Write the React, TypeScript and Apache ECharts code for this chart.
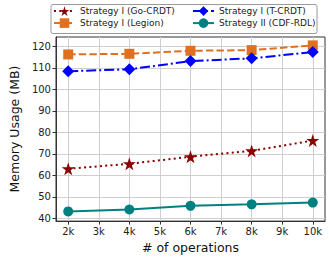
import React, { useEffect, useRef } from "react";
import * as echarts from "echarts";

const ops = [2, 4, 6, 8, 10];
const goCrdt = [63.1, 65.4, 68.7, 71.4, 76.2];
const legion = [116.2, 116.5, 117.9, 118.2, 120.4];
const tCrdt = [108.4, 109.3, 113.1, 114.4, 117.3];
const cdfRdl = [43.3, 44.2, 45.9, 46.6, 47.4];
const xTicks = [2, 3, 4, 5, 6, 7, 8, 9, 10];
const yTicks = [40, 50, 60, 70, 80, 90, 100, 110, 120];

const names = [
  "Strategy I (Go-CRDT)",
  "Strategy I (Legion)",
  "Strategy I (T-CRDT)",
  "Strategy II (CDF-RDL)",
];

const STAR =
  "path://M0,-10 L2.245,-3.09 L9.511,-3.09 L3.633,1.18 L5.878,8.09 L0,3.82 L-5.878,8.09 L-3.633,1.18 L-9.511,-3.09 L-2.245,-3.09 Z";

const FONT = "DejaVu Sans";

export default function App() {
  const ref = useRef<HTMLDivElement>(null);
  useEffect(() => {
    const chart = echarts.init(ref.current!, null, { renderer: "svg" });
    const pair = (ys: number[]) => ops.map((x, i) => [x, ys[i]]);
    const legendBase = {
      padding: 0,
      itemWidth: 21,
      itemHeight: 12,
      textStyle: { fontFamily: FONT, fontSize: 9, color: "#222" },
      selectedMode: false,
      z: 10,
    };
    chart.setOption({
      animation: false,
      textStyle: { fontFamily: FONT },
      grid: {
        left: 43,
        right: 4,
        top: 37,
        bottom: 33,
        show: true,
        borderColor: "#333",
        borderWidth: 1,
        backgroundColor: "transparent",
      },
      graphic: [
        {
          type: "rect",
          z: 3,
          shape: { x: 51, y: 4.5, width: 266, height: 29, r: 2 },
          style: { fill: "#fff", stroke: "#999", lineWidth: 1 },
        },
      ],
      legend: [
        { ...legendBase, data: [names[0]], left: 53, top: 6.3 },
        { ...legendBase, data: [names[1]], left: 53, top: 18.3 },
        { ...legendBase, data: [names[2]], left: 192, top: 6.3 },
        { ...legendBase, data: [names[3]], left: 192, top: 18.3 },
      ],
      xAxis: {
        type: "value",
        min: 1.6,
        max: 10.4,
        name: "# of operations",
        nameLocation: "middle",
        nameGap: 13,
        nameTextStyle: { fontFamily: FONT, fontSize: 12.5, color: "#111", verticalAlign: "top" },
        axisLine: { show: true, lineStyle: { color: "#333", width: 1 } },
        axisTick: { show: true, length: 3.5, customValues: xTicks, lineStyle: { color: "#333" } },
        axisLabel: {
          customValues: xTicks,
          formatter: (v: number) => v + "k",
          fontFamily: FONT,
          fontSize: 10,
          color: "#222",
          margin: 5,
        },
        splitLine: { show: true, lineStyle: { color: "#cfcfcf", width: 1 } },
      },
      yAxis: {
        type: "value",
        min: 38.8,
        max: 124.3,
        name: "Memory Usage (MB)",
        nameLocation: "middle",
        nameGap: 26,
        nameTextStyle: { fontFamily: FONT, fontSize: 12.5, color: "#111" },
        axisLine: { show: true, lineStyle: { color: "#333", width: 1 } },
        axisTick: { show: true, length: 3.5, customValues: yTicks, lineStyle: { color: "#333" } },
        axisLabel: {
          customValues: yTicks,
          fontFamily: FONT,
          fontSize: 10,
          color: "#222",
          margin: 5,
        },
        splitLine: { show: true, lineStyle: { color: "#cfcfcf", width: 1 } },
      },
      series: [
        {
          name: names[0],
          type: "line",
          data: pair(goCrdt),
          symbol: STAR,
          symbolSize: 13,
          color: "#8b0000",
          lineStyle: { width: 2, type: [2, 3.3], color: "#8b0000" },
          itemStyle: { color: "#8b0000" },
        },
        {
          name: names[1],
          type: "line",
          data: pair(legion),
          symbol: "rect",
          symbolSize: 10,
          color: "#e07020",
          lineStyle: { width: 2, type: [7.4, 3.2], color: "#e07020" },
          itemStyle: { color: "#e07020" },
        },
        {
          name: names[2],
          type: "line",
          data: pair(tCrdt),
          symbol: "diamond",
          symbolSize: 12,
          color: "#0000ff",
          lineStyle: { width: 2, type: [10, 3, 2, 3], color: "#0000ff" },
          itemStyle: { color: "#0000ff" },
        },
        {
          name: names[3],
          type: "line",
          data: pair(cdfRdl),
          symbol: "circle",
          symbolSize: 10,
          color: "#008080",
          lineStyle: { width: 2, type: "solid", color: "#008080" },
          itemStyle: { color: "#008080" },
        },
      ],
    });
    return () => chart.dispose();
  }, []);
  return (
    <div
      ref={ref}
      style={{ position: "absolute", left: 0, top: 0, width: 329, height: 259 }}
    />
  );
}
